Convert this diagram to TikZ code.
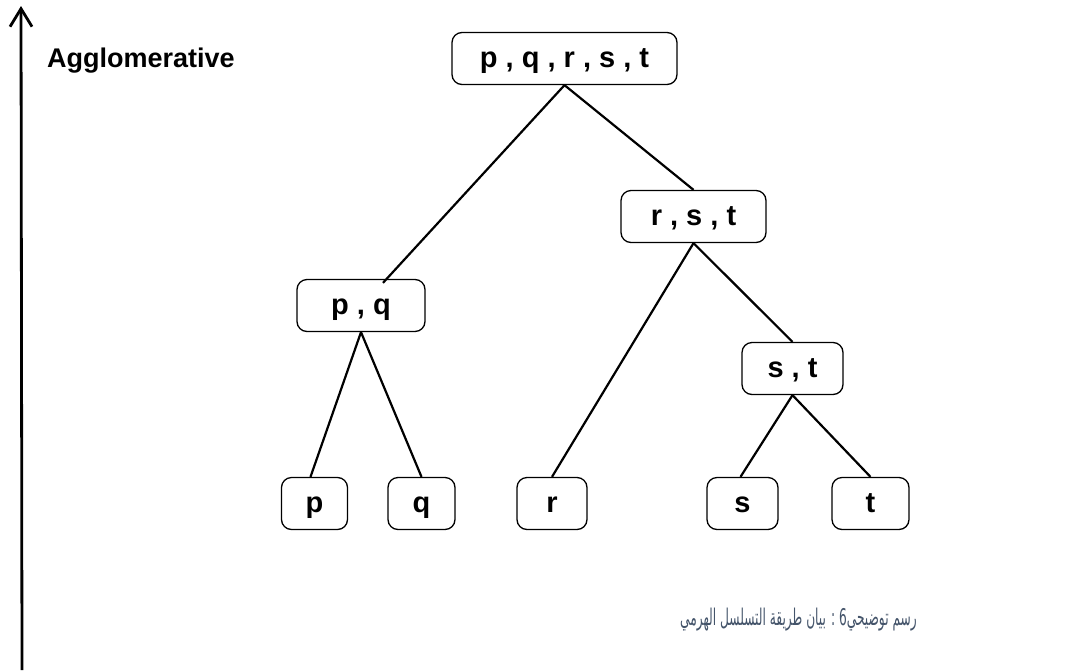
\documentclass[tikz,border=0pt]{standalone}
\usepackage{fontspec}
\usepackage{graphicx}
\setmainfont{Liberation Sans}
\newfontfamily\arabicfont[Script=Arabic]{DejaVu Sans}
\TeXXeTstate=1
\usetikzlibrary{arrows.meta}
\definecolor{captionblue}{RGB}{68,84,106}
\begin{document}
\begin{tikzpicture}[x=1pt,y=-1pt,
  cluster/.style={draw,line width=1.3pt,rounded corners=10pt,inner xsep=22pt,
    minimum height=52pt,text height=22pt,text depth=4pt,
    font=\fontsize{29}{34}\bfseries\selectfont},
  link/.style={line width=2.2pt}]
\useasboundingbox (0,0) rectangle (1081,670);

% Direction of merging.
\coordinate (axisfoot) at (22,670);
\coordinate (axistip) at (21,6);
\draw[line width=2.8pt,-{Straight Barb[length=18pt,width=22pt]}] (axisfoot) -- (axistip);
\node[anchor=base west,inner sep=0pt,font=\fontsize{27}{32}\bfseries\selectfont] (axislabel) at (47,67) {Agglomerative};

% Clusters, from the root down.
\node[cluster,minimum width=225pt] (pqrst) at (564.5,58.5) {p , q , r , s , t};
\node[cluster,minimum width=145pt] (rst) at (693.5,216.5) {r , s , t};
\node[cluster,minimum width=128pt] (pq) at (361,305.5) {p , q};
\node[cluster,minimum width=101pt] (st) at (792.5,368.5) {s , t};

% Single points.
\node[cluster,minimum width=66pt] (p) at (314.5,503.5) {p};
\node[cluster,minimum width=67pt] (q) at (421.5,503.5) {q};
\node[cluster,minimum width=70pt] (r) at (552,503.5) {r};
\node[cluster,minimum width=71pt] (s) at (742.5,503.5) {s};
\node[cluster,minimum width=77pt] (t) at (870.5,503.5) {t};

% Merges.
\draw[link] (pqrst.south) -- ([xshift=22pt,yshift=-4pt]pq.north);
\draw[link] (pqrst.south) -- (rst.north);
\draw[link] (rst.south) -- (r.north);
\draw[link] (rst.south) -- (st.north);
\draw[link] (pq.south) -- ([xshift=-4pt]p.north);
\draw[link] (pq.south) -- (q.north);
\draw[link] (st.south) -- ([xshift=-2pt]s.north);
\draw[link] (st.south) -- (t.north);

% Caption.
\node[anchor=base west,text=captionblue,inner sep=0pt,
  font=\arabicfont\fontsize{23}{28}\selectfont] (caption) at (680,625)
  {\scalebox{0.53}[1]{\beginR رسم توضيحي6 : بيان طريقة التسلسل الهرمي\endR}};
\end{tikzpicture}
\end{document}
